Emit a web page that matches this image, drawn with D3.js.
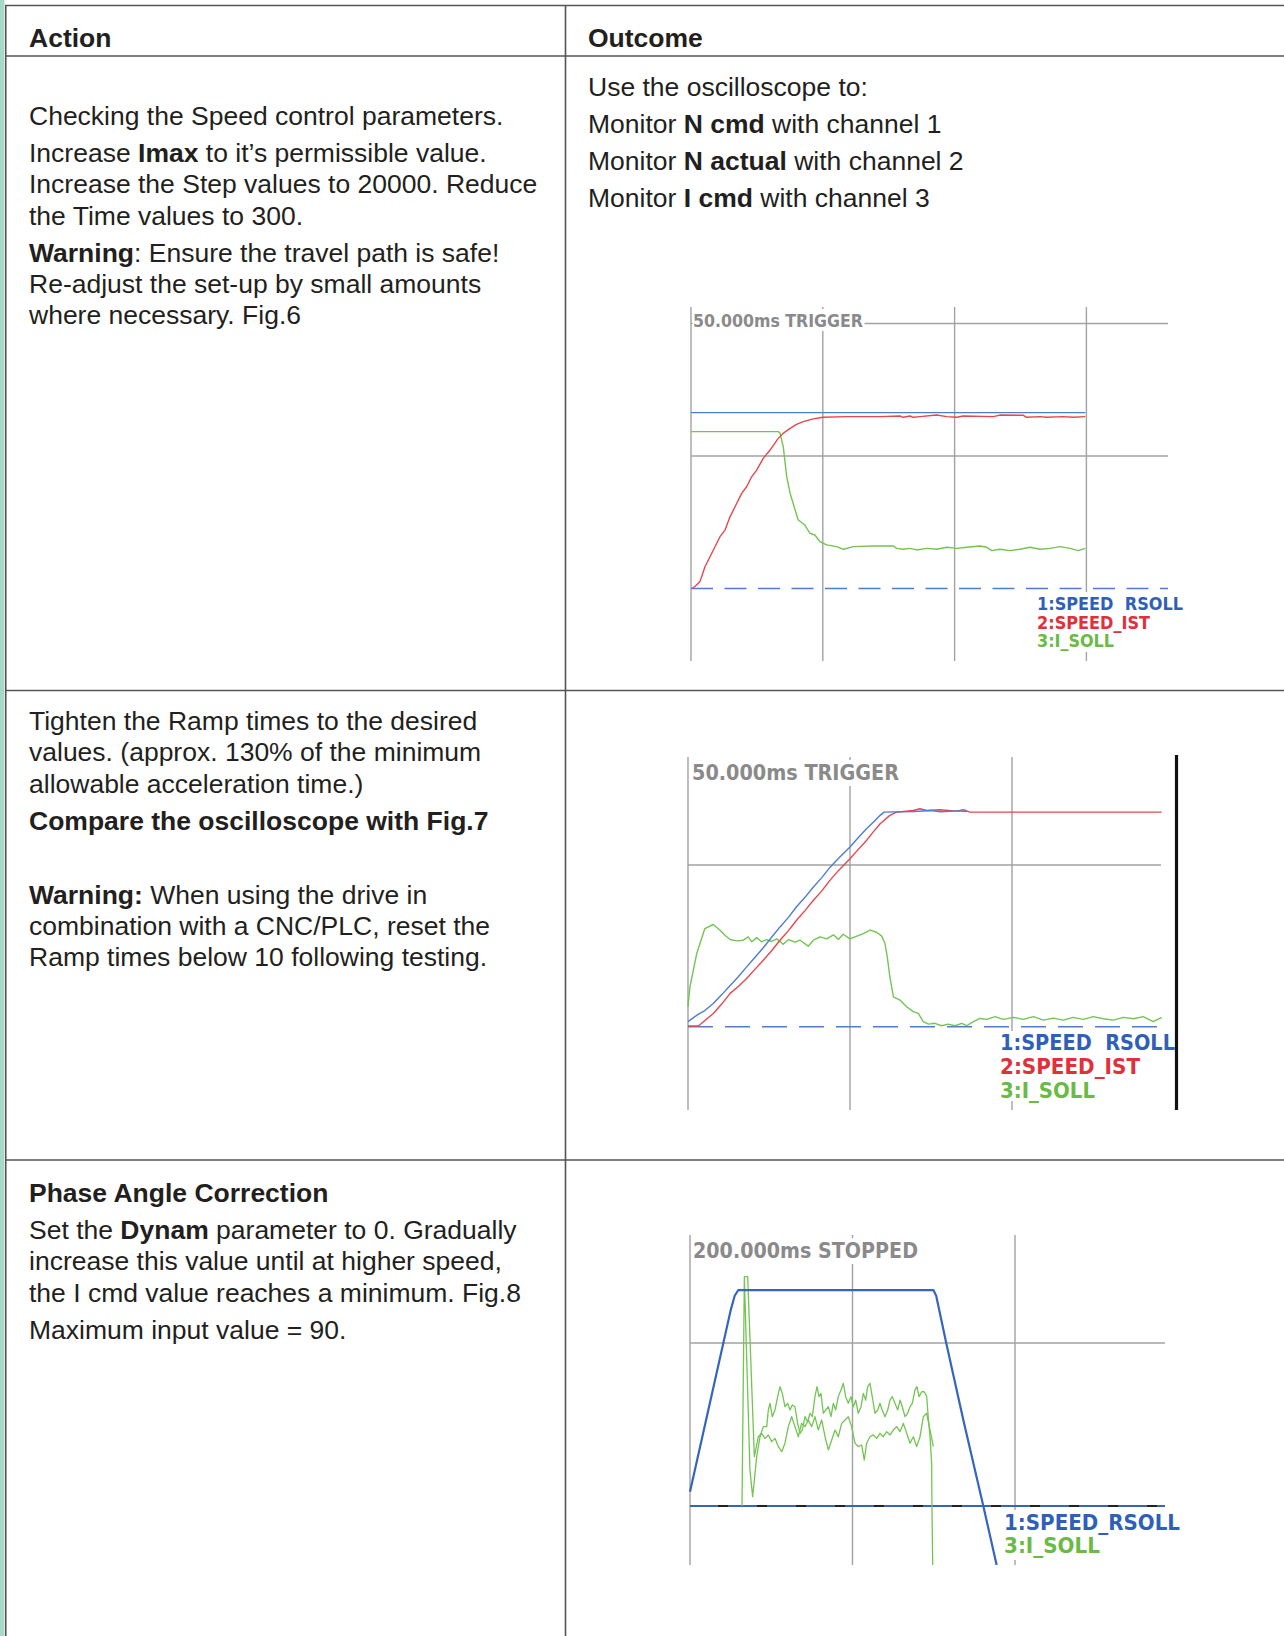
<!DOCTYPE html>
<html>
<head>
<meta charset="utf-8">
<script src="https://cdn.jsdelivr.net/npm/d3@7"></script>
<style>
  body { margin: 0; background: #fff; }
  svg { display: block; }
  .cell { font-family: "Liberation Sans", Arial, Helvetica, sans-serif; font-size: 26.5px; fill: #231f20; white-space: pre; }
  .scopeTitle { font-family: "DejaVu Sans", sans-serif; font-weight: bold; fill: #8a8a8a; white-space: pre; }
  .scopeLegend { font-family: "DejaVu Sans", sans-serif; font-weight: bold; white-space: pre; }
</style>
</head>
<body>
<div id="chart"></div>
<script>
// ---- table text (** marks bold) ----
const headerLabels = ["Action", "Outcome"];

const row1Action = [
  ["Checking the Speed control parameters."],
  ["Increase **Imax** to it’s permissible value.",
   "Increase the Step values to 20000. Reduce",
   "the Time values to 300."],
  ["**Warning**: Ensure the travel path is safe!",
   "Re-adjust the set-up by small amounts",
   "where necessary. Fig.6"]
];
const row1Outcome = [
  ["Use the oscilloscope to:"],
  ["Monitor **N cmd** with channel 1"],
  ["Monitor **N actual** with channel 2"],
  ["Monitor **I cmd** with channel 3"]
];
const row2Action = [
  ["Tighten the Ramp times to the desired",
   "values. (approx. 130% of the minimum",
   "allowable acceleration time.)"],
  ["**Compare the oscilloscope with Fig.7**"],
  [""],
  ["**Warning:** When using the drive in",
   "combination with a CNC/PLC, reset the",
   "Ramp times below 10 following testing."]
];
const row3Action = [
  ["**Phase Angle Correction**"],
  ["Set the **Dynam** parameter to 0. Gradually",
   "increase this value until at higher speed,",
   "the I cmd value reaches a minimum. Fig.8"],
  ["Maximum input value = 90."]
];

// ---- scope traces: [time ms, level in grid divisions] ----
const scope1Title = "50.000ms TRIGGER";
const scope1Labels = ["1:SPEED\u00a0\u00a0RSOLL", "2:SPEED_IST", "3:I_SOLL"];
const scope1Blue = [[0, 1.327], [149.6, 1.327]];
const scope1Red = [[0.3, 0], [1.5, 0.015], [3.4, 0.052], [5.3, 0.164], [7.2, 0.24], [9.1, 0.315],
  [11, 0.391], [12.9, 0.441], [14.8, 0.541], [16.7, 0.617], [19.2, 0.718], [21.1, 0.768],
  [23, 0.843], [24.9, 0.894], [27.4, 0.982], [30, 1.045], [33.1, 1.133], [35.2, 1.175],
  [37.6, 1.208], [40, 1.238], [42.6, 1.259], [46, 1.278], [50, 1.292], [59, 1.297],
  [71.7, 1.297], [79.3, 1.302], [80.5, 1.292], [83.1, 1.302], [84.3, 1.292], [86.9, 1.297],
  [93.2, 1.309], [97, 1.297], [100.8, 1.292], [103.3, 1.302], [114.7, 1.297], [117.2, 1.309],
  [126.1, 1.307], [127.3, 1.292], [132.4, 1.297], [134.9, 1.292], [141.2, 1.297], [145, 1.292],
  [149.6, 1.297]];
const scope1Green = [[0, 1.184], [33.1, 1.184], [33.8, 1.171], [35, 1.07], [36.3, 0.844],
  [37.6, 0.718], [39.5, 0.592], [40.7, 0.517], [43.2, 0.479], [45.1, 0.417], [47, 0.404],
  [48.9, 0.354], [51.5, 0.329], [55.3, 0.316], [57.8, 0.296], [61.6, 0.316], [69.2, 0.321],
  [76.8, 0.321], [78, 0.303], [80.5, 0.296], [83.1, 0.303], [85.6, 0.291], [89.4, 0.303],
  [93.2, 0.296], [97, 0.311], [100.8, 0.303], [104.6, 0.311], [109.6, 0.321], [112.2, 0.311],
  [114.1, 0.286], [117.2, 0.296], [121, 0.286], [124.8, 0.296], [128.6, 0.311], [132.4, 0.296],
  [136.2, 0.303], [140, 0.316], [143.8, 0.303], [146.9, 0.286], [149.6, 0.303]];

const scope2Title = "50.000ms TRIGGER";
const scope2Labels = ["1:SPEED\u00a0\u00a0RSOLL", "2:SPEED_IST", "3:I_SOLL"];
const scope2Blue = [[0, 0.031], [3, 0.075], [5.2, 0.1], [7.8, 0.144], [10.5, 0.2], [13, 0.255],
  [15.6, 0.31], [18.1, 0.37], [20.7, 0.43], [23.3, 0.49], [25.8, 0.553], [28.4, 0.617],
  [31, 0.676], [33.5, 0.742], [36.1, 0.8], [38.7, 0.864], [41.3, 0.922], [43.8, 0.985],
  [46.4, 1.04], [50, 1.111], [52.5, 1.168], [55.1, 1.224], [57.5, 1.27], [59.3, 1.307],
  [60.5, 1.327], [70, 1.331], [75, 1.337], [78, 1.329], [83, 1.335], [86, 1.331]];
const scope2Red = [[0, 0.004], [3.2, 0.004], [7.8, 0.082], [10.4, 0.14], [13, 0.206],
  [15.6, 0.25], [18.1, 0.298], [20.7, 0.356], [23.3, 0.412], [25.8, 0.47], [28.4, 0.535],
  [31, 0.594], [33.5, 0.658], [36.1, 0.718], [38.7, 0.782], [41.3, 0.84], [43.8, 0.905],
  [46.4, 0.965], [50, 1.039], [52.5, 1.095], [55.1, 1.152], [57.2, 1.205], [59.3, 1.255],
  [62.3, 1.307], [64.4, 1.327], [69.5, 1.337], [71.6, 1.348], [73.7, 1.337], [77.8, 1.342],
  [82.9, 1.333], [85, 1.342], [87, 1.327], [146.2, 1.327]];
const scope2Green = [[0, 0.123], [0.6, 0.247], [2.7, 0.453], [5.2, 0.607], [7.8, 0.632],
  [9.9, 0.597], [11.4, 0.566], [13, 0.539], [15, 0.531], [17.1, 0.535], [18.6, 0.556],
  [19.7, 0.525], [21.2, 0.551], [22.7, 0.525], [24.3, 0.539], [25.8, 0.527], [27.4, 0.543],
  [29.4, 0.51], [31, 0.539], [33, 0.523], [34.6, 0.535], [37.1, 0.498], [38.7, 0.535],
  [40.7, 0.556], [42.8, 0.543], [44.9, 0.568], [46.4, 0.539], [47.9, 0.572], [50, 0.543],
  [52.1, 0.56], [54.1, 0.576], [56.2, 0.597], [58.2, 0.584], [59.8, 0.56], [60.8, 0.514],
  [61.5, 0.432], [62.3, 0.309], [63.4, 0.185], [65.4, 0.165], [67.5, 0.123], [69.5, 0.093],
  [71.1, 0.082], [72.6, 0.031], [74.2, 0.016], [76.2, 0.021], [78.3, 0.006], [80.3, 0.016],
  [82.4, 0.006], [84.5, 0.021], [86, 0.006], [88.1, 0.031], [90.1, 0.051], [92.2, 0.045],
  [94.8, 0.062], [97.3, 0.045], [100.4, 0.058], [103.5, 0.045], [106.6, 0.062], [109.7, 0.041],
  [112.8, 0.053], [115.8, 0.041], [118.9, 0.058], [122, 0.045], [125.1, 0.062], [128.2, 0.049],
  [131.3, 0.041], [134.4, 0.058], [137.5, 0.049], [140.5, 0.062], [143.6, 0.031], [146.2, 0.058]];

const scope3Title = "200.000ms STOPPED";
const scope3Labels = ["1:SPEED_RSOLL", "3:I_SOLL"];
const scope3Blue = [[0, 0.088], [50, 1.2], [55, 1.29], [59.5, 1.325], [299.5, 1.325],
  [303, 1.29], [315.9, 0.988], [336.4, 0.528], [361, 0], [377.4, -0.362]];
const scope3GreenA = [[64, 0], [66.9, 1.407], [73.8, 0.22], [77.1, 0.057], [82.1, 0.303],
  [86.2, 0.425], [90.2, 0.487], [94.4, 0.487], [96.4, 0.589], [98.5, 0.63], [101.3, 0.548],
  [104.6, 0.589], [107.9, 0.671], [110.8, 0.732], [113.6, 0.691], [116.9, 0.609], [120.2, 0.63],
  [123.1, 0.589], [125.9, 0.62], [129.2, 0.609], [132.5, 0.507], [135.4, 0.446], [138.2, 0.466],
  [141.5, 0.548], [144.8, 0.517], [147.7, 0.569], [150.5, 0.548], [153.8, 0.671], [156.3, 0.732],
  [158.8, 0.671], [161.2, 0.691], [164.1, 0.569], [167, 0.589], [170.3, 0.609], [173.5, 0.548],
  [176.4, 0.63], [179.3, 0.589], [182.5, 0.671], [185.8, 0.712], [188.7, 0.753], [191.6, 0.671],
  [194.8, 0.63], [198.1, 0.671], [201, 0.609], [203.9, 0.65], [207.1, 0.569], [210.5, 0.609],
  [213.3, 0.691], [216.2, 0.65], [218.7, 0.732], [221.5, 0.753], [224.3, 0.671], [227.7, 0.569],
  [231, 0.589], [233.8, 0.63], [236.6, 0.589], [240, 0.548], [243.3, 0.589], [246.2, 0.65],
  [249, 0.671], [252.3, 0.63], [255.6, 0.589], [258.5, 0.65], [261.3, 0.609], [264.6, 0.548],
  [267.9, 0.569], [270.8, 0.609], [273.6, 0.63], [276.9, 0.712], [279.4, 0.732], [281.8, 0.671],
  [285.1, 0.701], [288.3, 0.701], [291.3, 0.671], [293.2, 0.548], [295.4, 0.425], [297.4, 0.262],
  [297.8, 0], [298.7, -0.362]];
const scope3GreenB = [[66.9, 1.407], [71, 1.407], [79.2, 0.303], [84.1, 0.425], [88.2, 0.446],
  [92.3, 0.415], [96.4, 0.436], [100.5, 0.395], [104.6, 0.415], [108.7, 0.364], [112.9, 0.333],
  [116.9, 0.385], [121, 0.487], [125.1, 0.548], [129.2, 0.487], [133.3, 0.425], [137.4, 0.507],
  [141.5, 0.487], [145.6, 0.528], [149.7, 0.487], [153.8, 0.548], [157.9, 0.466], [162, 0.528],
  [166.2, 0.425], [170.3, 0.344], [174.4, 0.405], [178.5, 0.466], [182.5, 0.425], [186.7, 0.507],
  [190.8, 0.528], [194.8, 0.548], [198.9, 0.487], [203.1, 0.385], [207.1, 0.364], [211.3, 0.374],
  [214.5, 0.282], [217.4, 0.385], [221.5, 0.425], [225.6, 0.436], [229.8, 0.415], [233.8, 0.446],
  [237.9, 0.425], [242.1, 0.456], [246.2, 0.436], [250.2, 0.466], [254.4, 0.487], [258.5, 0.456],
  [262.6, 0.507], [266.7, 0.446], [270.8, 0.385], [274.9, 0.425], [279, 0.364], [283.1, 0.425],
  [287.2, 0.548], [291.3, 0.569], [295.4, 0.466], [299.5, 0.364]];

const traceColors = { blue: "#4f7ccf", red: "#e8464e", green: "#74c453" };
const labelColors = ["#2f5fb8", "#e0303a", "#6aba46"];

// ---- page ----
const svg = d3.select("#chart").append("svg")
  .attr("width", 1284)
  .attr("height", 1636);

svg.append("rect").attr("x", 0).attr("y", 0).attr("width", 1284).attr("height", 1636).attr("fill", "#fff");
svg.append("rect").attr("x", 0).attr("y", 0).attr("width", 4.5).attr("height", 1636).attr("fill", "#a9d8cb");

const borderColor = "#555";
const hLines = [5.5, 56, 690.5, 1160];
svg.selectAll(".hrule").data(hLines).enter().append("line")
  .attr("x1", 5).attr("x2", 1284)
  .attr("y1", d => d).attr("y2", d => d)
  .attr("stroke", borderColor).attr("stroke-width", 1.6);
svg.selectAll(".vrule").data([5.8, 565.5]).enter().append("line")
  .attr("x1", d => d).attr("x2", d => d)
  .attr("y1", 5).attr("y2", 1636)
  .attr("stroke", borderColor).attr("stroke-width", 1.6);

function addRichText(textSel, str) {
  str.split("**").forEach((part, i) => {
    if (!part) return;
    textSel.append("tspan")
      .attr("font-weight", i % 2 ? "bold" : null)
      .text(part);
  });
}

function drawCell(x, y0, paras) {
  const lineStep = 31.3, paraStep = 37;
  let y = y0;
  paras.forEach((lines, i) => {
    if (i > 0) y += paraStep;
    lines.forEach((line, j) => {
      if (j > 0) y += lineStep;
      const t = svg.append("text").attr("class", "cell").attr("x", x).attr("y", y);
      addRichText(t, line);
    });
  });
}

drawCell(29, 47, [["**" + headerLabels[0] + "**"]]);
drawCell(588, 47, [["**" + headerLabels[1] + "**"]]);
drawCell(29, 125, row1Action);
drawCell(588, 96, row1Outcome);
drawCell(29, 730, row2Action);
drawCell(29, 1202, row3Action);

// ---- oscilloscope panels ----
function drawScope(cfg) {
  const g = svg.append("g");
  const x = d3.scaleLinear().domain(cfg.xDomain).range(cfg.xRange);
  const y = d3.scaleLinear().domain([0, 1]).range(cfg.yRange);
  const left = cfg.xRange[0];

  const clipId = "clip" + cfg.id;
  svg.append("clipPath").attr("id", clipId).append("rect")
    .attr("x", left - 2).attr("y", cfg.top)
    .attr("width", cfg.right - left + 20).attr("height", cfg.bottom - cfg.top);

  g.selectAll(".vgrid").data(cfg.xGrid).enter().append("line")
    .attr("x1", d => x(d)).attr("x2", d => x(d))
    .attr("y1", cfg.top).attr("y2", cfg.bottom)
    .attr("stroke", "#a2a2a2").attr("stroke-width", 1.4);

  g.selectAll(".hgrid").data(cfg.yGrid).enter().append("line")
    .attr("x1", left).attr("x2", cfg.right)
    .attr("y1", d => y(d)).attr("y2", d => y(d))
    .attr("stroke", "#a2a2a2").attr("stroke-width", 1.4);

  // zero reference of channel 1
  if (cfg.zeroSolid) {
    g.append("line")
      .attr("x1", left).attr("x2", cfg.right).attr("y1", y(0)).attr("y2", y(0))
      .attr("stroke", "#3565bd").attr("stroke-width", 2.2);
    g.append("line")
      .attr("x1", left).attr("x2", cfg.right).attr("y1", y(0)).attr("y2", y(0))
      .attr("stroke", "#222").attr("stroke-width", 2.2)
      .attr("stroke-dasharray", "10 29").attr("stroke-dashoffset", 11);
  } else {
    g.append("line")
      .attr("x1", left).attr("x2", cfg.right).attr("y1", y(0)).attr("y2", y(0))
      .attr("stroke", traceColors.blue).attr("stroke-width", 1.6)
      .attr("stroke-dasharray", cfg.zeroDash);
  }

  const line = d3.line().x(d => x(d[0])).y(d => y(d[1]));
  const traces = g.append("g").attr("clip-path", "url(#" + clipId + ")");
  cfg.traces.forEach(tr => {
    traces.append("path")
      .attr("d", line(tr.data))
      .attr("fill", "none")
      .attr("stroke", tr.color)
      .attr("stroke-width", tr.width || 1.4)
      .attr("stroke-linejoin", "round");
  });

  // title with its own white backing
  const tb = cfg.titleBox;
  g.append("rect").attr("x", tb[0]).attr("y", tb[1]).attr("width", tb[2]).attr("height", tb[3]).attr("fill", "#fff");
  g.append("text").attr("class", "scopeTitle")
    .attr("x", cfg.titleX).attr("y", cfg.titleY)
    .attr("font-size", cfg.titleSize)
    .attr("textLength", cfg.titleLength).attr("lengthAdjust", "spacingAndGlyphs")
    .text(cfg.title);

  // channel labels
  const lb = cfg.legendBox;
  g.append("rect").attr("x", lb[0]).attr("y", lb[1]).attr("width", lb[2]).attr("height", lb[3]).attr("fill", "#fff");
  g.selectAll(".lab").data(cfg.labels).enter().append("text")
    .attr("class", "scopeLegend")
    .attr("x", cfg.legendX)
    .attr("y", (d, i) => cfg.legendY[i])
    .attr("font-size", cfg.legendSize)
    .attr("fill", (d, i) => cfg.labelColors[i])
    .attr("textLength", (d, i) => cfg.legendLengths[i])
    .attr("lengthAdjust", "spacingAndGlyphs")
    .text(d => d);

  if (cfg.bar) {
    g.append("line")
      .attr("x1", cfg.bar.x).attr("x2", cfg.bar.x)
      .attr("y1", cfg.bar.y1).attr("y2", cfg.bar.y2)
      .attr("stroke", "#111").attr("stroke-width", 3.2);
  }
}

drawScope({
  id: 1,
  xDomain: [0, 150], xRange: [691, 1086.4],
  yRange: [588.5, 456],
  xGrid: [0, 50, 100, 150], yGrid: [1, 2],
  right: 1168, top: 307, bottom: 661,
  zeroDash: "22 11.5",
  traces: [
    { data: scope1Blue, color: traceColors.blue },
    { data: scope1Green, color: traceColors.green },
    { data: scope1Red, color: traceColors.red }
  ],
  title: scope1Title, titleX: 693, titleY: 327, titleSize: 17.5, titleLength: 170,
  titleBox: [692.5, 309, 172, 22],
  labels: scope1Labels, labelColors: labelColors,
  legendX: 1037, legendY: [609.5, 628.5, 647], legendSize: 17, legendLengths: [146, 113, 77],
  legendBox: [1033, 592, 152, 60]
});

drawScope({
  id: 2,
  xDomain: [0, 100], xRange: [688, 1012],
  yRange: [1026.7, 865],
  xGrid: [0, 50, 100], yGrid: [1],
  right: 1161, top: 757, bottom: 1110,
  zeroDash: "25 12",
  traces: [
    { data: scope2Green, color: traceColors.green },
    { data: scope2Red, color: traceColors.red },
    { data: scope2Blue, color: traceColors.blue }
  ],
  title: scope2Title, titleX: 692, titleY: 780, titleSize: 21, titleLength: 207,
  titleBox: [689.5, 760, 212, 26],
  labels: scope2Labels, labelColors: labelColors,
  legendX: 1000, legendY: [1050, 1074, 1098], legendSize: 20.5, legendLengths: [175, 140, 95],
  legendBox: [997, 1031, 176, 70],
  bar: { x: 1176.5, y1: 755, y2: 1110 }
});

drawScope({
  id: 3,
  xDomain: [0, 400], xRange: [690, 1015],
  yRange: [1506, 1343],
  xGrid: [0, 200, 400], yGrid: [1],
  right: 1165, top: 1235, bottom: 1565,
  zeroSolid: true,
  traces: [
    { data: scope3GreenB, color: traceColors.green, width: 1.3 },
    { data: scope3GreenA, color: traceColors.green, width: 1.3 },
    { data: scope3Blue, color: "#3565bd", width: 2.2 }
  ],
  title: scope3Title, titleX: 693, titleY: 1258, titleSize: 21.5, titleLength: 225,
  titleBox: [691.5, 1238, 230, 26],
  labels: scope3Labels, labelColors: [labelColors[0], labelColors[2]],
  legendX: 1004, legendY: [1530, 1553], legendSize: 20.5, legendLengths: [176, 96],
  legendBox: [1001, 1510, 182, 50]
});
</script>
</body>
</html>
